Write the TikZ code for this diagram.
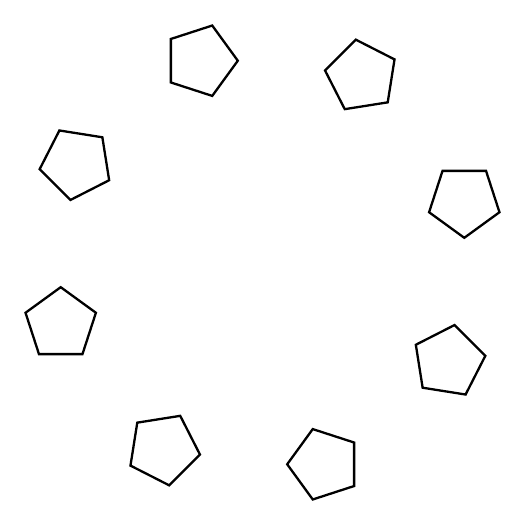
\documentclass[tikz,border=0pt]{standalone}
\begin{document}
\begin{tikzpicture}[pent/.style={draw=black,line width=2.3pt,line join=miter}]
\useasboundingbox (-262.5pt,-262.5pt) rectangle (262.5pt,262.5pt);
\foreach \k in {0,...,7} {
  \pgfmathsetmacro\th{107-45*\k}
  \pgfmathsetmacro\rr{27*\k}
  \begin{scope}[shift={(\th:211pt)}]
    \draw[pent] (\rr:37pt) -- (\rr+72:37pt) -- (\rr+144:37pt) -- (\rr+216:37pt) -- (\rr+288:37pt) -- cycle;
  \end{scope}
}
\end{tikzpicture}
\end{document}
